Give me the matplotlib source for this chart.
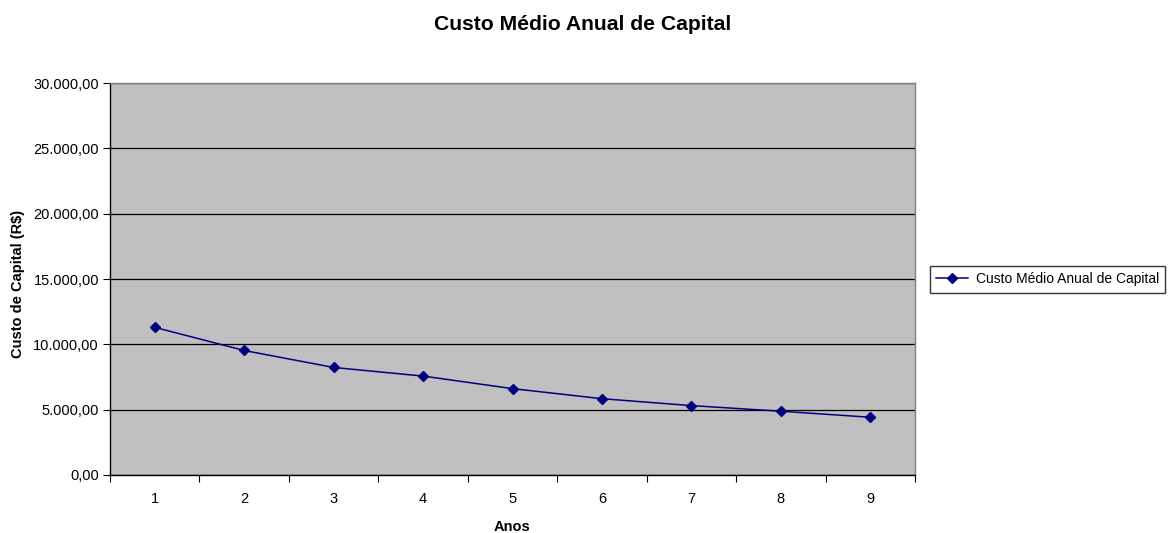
import matplotlib
matplotlib.use("Agg")
import matplotlib.pyplot as plt
from matplotlib.ticker import FuncFormatter, FixedLocator

anos = [1, 2, 3, 4, 5, 6, 7, 8, 9]
custo = [11300, 9530, 8230, 7570, 6610, 5840, 5310, 4880, 4420]
serie_nome = "Custo Médio Anual de Capital"

plt.rcParams['font.family'] = ['Liberation Sans', 'DejaVu Sans']

W, H = 1168, 533
fig = plt.figure(figsize=(W / 100, H / 100), dpi=100)
ax = fig.add_axes([110 / W, 1 - 475 / H, 805 / W, 392 / H])
ax.set_facecolor('#C0C0C0')

ax.plot(anos, custo, color='#000080', marker='D', markersize=5.5, linewidth=1.1,
        label=serie_nome, zorder=3)

ax.set_xlim(0.5, 9.5)
ax.set_ylim(0, 30000)
ax.set_yticks(range(0, 30001, 5000))

def fmt(v, pos):
    s = f"{v:,.2f}"
    return s.replace(",", "X").replace(".", ",").replace("X", ".")
ax.yaxis.set_major_formatter(FuncFormatter(fmt))

ax.xaxis.set_major_locator(FixedLocator([i + 0.5 for i in range(0, 10)]))
ax.xaxis.set_major_formatter(FuncFormatter(lambda v, p: ""))
ax.xaxis.set_minor_locator(FixedLocator(anos))
ax.set_xticklabels([str(a) for a in anos], minor=True)
ax.tick_params(axis='x', which='minor', length=0, pad=12, labelsize=10.5)
ax.tick_params(axis='x', which='major', length=5, direction='out', color='#000000')
ax.tick_params(axis='y', length=5, direction='out', labelsize=10.5, pad=3)

ax.grid(axis='y', color='#000000', linewidth=0.9)
ax.set_axisbelow(True)
for s in ['left', 'bottom']:
    ax.spines[s].set_color('#000000')
    ax.spines[s].set_linewidth(1.0)
for s in ['top', 'right']:
    ax.spines[s].set_color('#808080')
    ax.spines[s].set_linewidth(1.0)

fig.text(512 / W, 1 - 531 / H, "Anos", fontsize=10.5, fontweight='bold',
         ha='center', va='baseline')
fig.text(18 / W, 1 - 284 / H, "Custo de Capital (R$)", fontsize=10.5, fontweight='bold',
         ha='center', va='center', rotation=90)
fig.text(583 / W, 1 - 29.5 / H, "Custo Médio Anual de Capital", fontsize=15.2,
         fontweight='bold', ha='center', va='baseline')

leg = fig.legend(loc='upper left', bbox_to_anchor=(930 / W, 1 - 266 / H), fontsize=10,
                 frameon=True, fancybox=False, edgecolor='#000000',
                 handlelength=2.25, handletextpad=0.6, borderpad=0.45,
                 borderaxespad=0)
leg.get_frame().set_linewidth(1.0)

fig.savefig("out.png", dpi=100)
